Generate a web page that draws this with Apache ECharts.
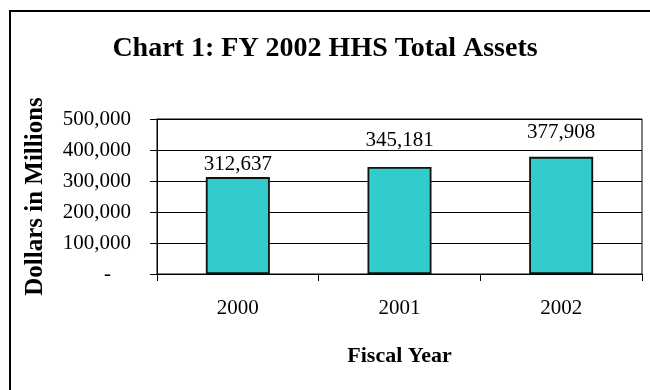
<!DOCTYPE html>
<html>
<head>
<meta charset="utf-8">
<script src="https://cdn.jsdelivr.net/npm/echarts@6/dist/echarts.min.js"></script>
<style>
html,body{margin:0;padding:0;background:#fff;}
#c{width:650px;height:390px;}
</style>
</head>
<body>
<div id="c"></div>
<script>
const categories = ['2000', '2001', '2002'];
const totalAssets = [312637, 345181, 377908];
const yTicks = [0, 100000, 200000, 300000, 400000, 500000];
const labelGaps = [2, 16, 14];

const FONT = "'Liberation Serif', 'Times New Roman', serif";
const chart = echarts.init(document.getElementById('c'), null, {renderer: 'canvas'});

function fmt(v) {
  return v.toString().replace(/\B(?=(\d{3})+(?!\d))/g, ',');
}

const option = {
  animation: false,
  backgroundColor: '#fff',
  title: {
    text: 'Chart 1: FY 2002 HHS Total Assets',
    left: 'center',
    top: 30,
    textStyle: {fontFamily: FONT, fontSize: 28, fontWeight: 'bold', color: '#000'}
  },
  graphic: [{
    type: 'rect',
    shape: {x: 10, y: 11, width: 700, height: 420},
    style: {fill: 'none', stroke: '#000', lineWidth: 2},
    silent: true
  }],
  grid: {
    left: 157, right: 8, top: 119, bottom: 116,
    show: true, borderColor: '#000', borderWidth: 1, backgroundColor: 'transparent'
  },
  xAxis: {
    type: 'category',
    data: categories,
    name: 'Fiscal Year',
    nameLocation: 'middle',
    nameGap: 71,
    nameTextStyle: {fontFamily: FONT, fontSize: 22, fontWeight: 'bold', color: '#000'},
    axisLine: {lineStyle: {color: '#000', width: 1}},
    axisTick: {show: true, inside: false, length: 7, alignWithLabel: false, lineStyle: {color: '#000'}},
    axisLabel: {fontFamily: FONT, fontSize: 21, color: '#000', margin: 24},
    splitLine: {show: false}
  },
  yAxis: {
    type: 'value',
    min: yTicks[0],
    max: yTicks[yTicks.length - 1],
    interval: yTicks[1] - yTicks[0],
    name: 'Dollars in Millions',
    nameLocation: 'middle',
    nameGap: 109,
    nameTextStyle: {fontFamily: FONT, fontSize: 25, fontWeight: 'bold', color: '#000'},
    axisLine: {show: true, lineStyle: {color: '#000', width: 1}},
    axisTick: {show: true, length: 7, lineStyle: {color: '#000'}},
    axisLabel: {
      fontFamily: FONT, fontSize: 21, color: '#000', margin: 26,
      formatter: function (v) { return v === 0 ? '{z|-}' : fmt(v); },
      rich: {z: {fontFamily: FONT, fontSize: 21, color: '#000', padding: [0, 20, 0, 0]}}
    },
    splitLine: {show: true, lineStyle: {color: '#000', width: 1}}
  },
  series: [{
    type: 'bar',
    data: totalAssets.map(function (v, i) {
      return {value: v, label: {distance: labelGaps[i]}};
    }),
    barWidth: 64,
    itemStyle: {color: '#33CCCC', borderColor: '#111', borderWidth: 1.8},
    label: {
      show: true, position: 'top',
      fontFamily: FONT, fontSize: 21, color: '#000',
      formatter: function (p) { return fmt(p.value); }
    }
  }]
};
chart.setOption(option);
</script>
</body>
</html>
